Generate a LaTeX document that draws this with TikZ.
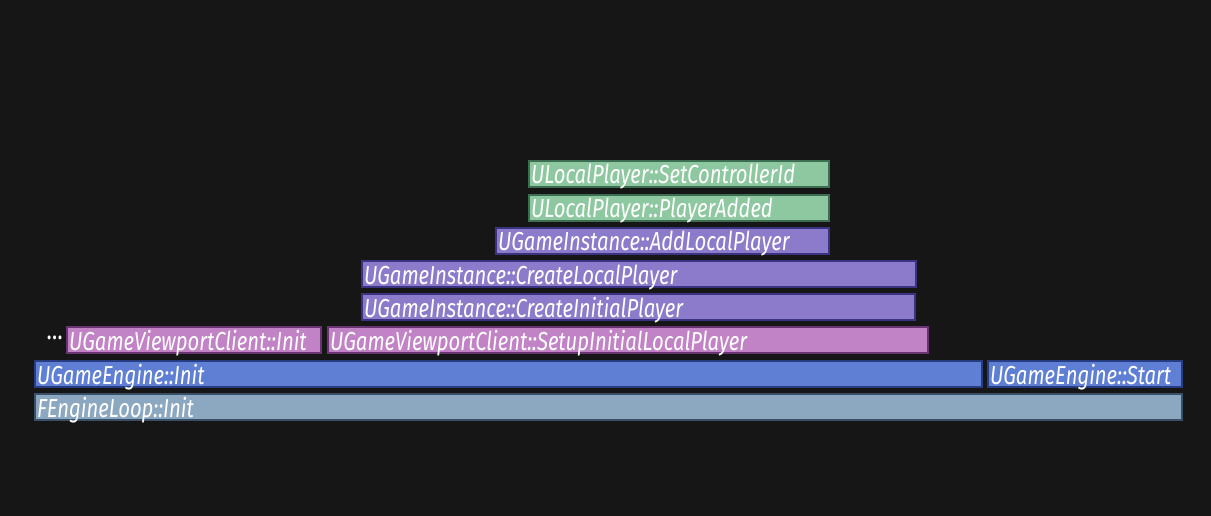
\documentclass[tikz,border=0pt]{standalone}
\usepackage{fontspec}
\setmainfont{Fira Sans}[FakeStretch=0.78]
\definecolor{bg}{HTML}{161616}
\definecolor{gfill}{HTML}{8EC8A0}
\definecolor{gline}{HTML}{3E6E52}
\definecolor{pfill}{HTML}{8C7BCB}
\definecolor{pline}{HTML}{3C3282}
\definecolor{kfill}{HTML}{C283C6}
\definecolor{kline}{HTML}{6A3472}
\definecolor{bfill}{HTML}{5F7FD4}
\definecolor{bline}{HTML}{283C82}
\definecolor{sfill}{HTML}{8CA7C0}
\definecolor{sline}{HTML}{3A5068}
\tikzset{
  bar/.style={draw, line width=1.6pt, anchor=north west, minimum height=26pt,
    inner xsep=2pt, inner ysep=0pt, outer sep=0pt, text=white, align=left,
    font=\fontsize{26pt}{26pt}\selectfont\itshape, text height=21pt, text depth=1pt},
  green/.style={bar, fill=gfill, draw=gline},
  purple/.style={bar, fill=pfill, draw=pline},
  pink/.style={bar, fill=kfill, draw=kline},
  blue/.style={bar, fill=bfill, draw=bline},
  slate/.style={bar, fill=sfill, draw=sline},
}
\begin{document}
\begin{tikzpicture}[x=1pt,y=-1pt]
\fill[bg] (0,0) rectangle (1211,516);
\useasboundingbox (0,0) rectangle (1211,516);
\node[green, text width=296pt] (scid) at (529,161) {ULocalPlayer::SetControllerId};
\node[green, text width=296pt] (padd) at (529,195) {ULocalPlayer::PlayerAdded};
\node[purple, text width=329pt] (alp) at (496,228) {UGameInstance::AddLocalPlayer};
\node[purple, text width=550pt] (clp) at (362,261) {UGameInstance::CreateLocalPlayer};
\node[purple, text width=549pt] (cip) at (362,294) {UGameInstance::CreateInitialPlayer};
\node[anchor=east, text=white, inner sep=0pt, font=\fontsize{28pt}{28pt}\selectfont] (dots) at (63,338) {\dots};
\node[pink, text width=250pt] (gvci) at (67,327) {UGameViewportClient::Init};
\node[pink, text width=596pt] (siplp) at (328,327) {UGameViewportClient::SetupInitialLocalPlayer};
\node[blue, text width=943pt] (gei) at (35,361) {UGameEngine::Init};
\node[blue, text width=190pt] (ges) at (988,361) {UGameEngine::Start};
\node[slate, text width=1143pt] (eli) at (35,394) {FEngineLoop::Init};
\end{tikzpicture}
\end{document}
